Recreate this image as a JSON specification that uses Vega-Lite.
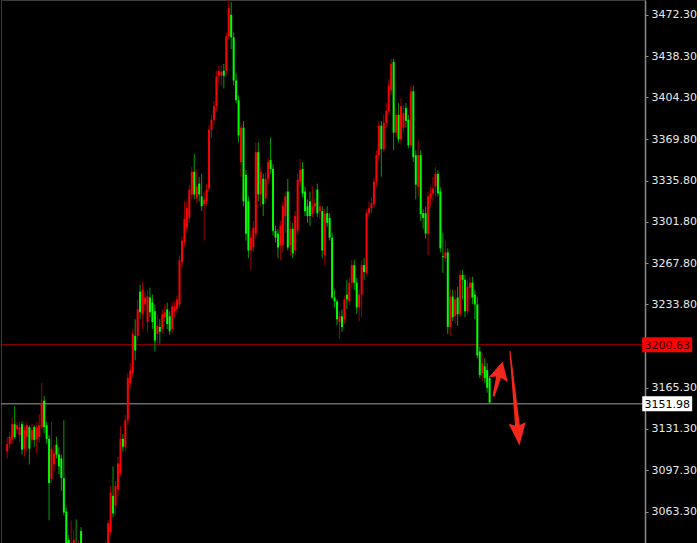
{
  "$schema": "https://vega.github.io/schema/vega-lite/v6.json",
  "width": 644,
  "height": 543,
  "padding": 0,
  "background": "#000000",
  "config": {
    "view": {"stroke": "#3c3c3c", "fill": "#000000"},
    "font": "DejaVu Sans"
  },
  "datasets": {
    "candles": [
      {"i":0,"o":3112.7,"h":3124.7,"l":3107.0,"c":3119.0},
      {"i":1,"o":3119.0,"h":3128.8,"l":3115.1,"c":3124.7},
      {"i":2,"o":3123.1,"h":3140.9,"l":3119.0,"c":3135.2},
      {"i":3,"o":3135.2,"h":3149.8,"l":3123.1,"c":3124.7},
      {"i":4,"o":3131.2,"h":3136.9,"l":3127.1,"c":3134.4},
      {"i":5,"o":3126.3,"h":3136.9,"l":3120.7,"c":3132.8},
      {"i":6,"o":3135.2,"h":3137.7,"l":3110.2,"c":3114.3},
      {"i":7,"o":3115.1,"h":3134.4,"l":3108.6,"c":3130.4},
      {"i":8,"o":3124.7,"h":3136.9,"l":3112.7,"c":3134.4},
      {"i":9,"o":3132.8,"h":3134.4,"l":3102.1,"c":3115.1},
      {"i":10,"o":3122.3,"h":3135.2,"l":3119.0,"c":3130.4},
      {"i":11,"o":3132.8,"h":3134.4,"l":3116.7,"c":3122.3},
      {"i":12,"o":3123.1,"h":3136.9,"l":3111.0,"c":3132.8},
      {"i":13,"o":3124.7,"h":3143.3,"l":3119.9,"c":3134.4},
      {"i":14,"o":3132.8,"h":3169.2,"l":3131.2,"c":3153.0},
      {"i":15,"o":3154.6,"h":3158.7,"l":3127.9,"c":3132.8},
      {"i":16,"o":3134.4,"h":3136.9,"l":3119.0,"c":3123.1},
      {"i":17,"o":3123.1,"h":3126.3,"l":3056.0,"c":3086.7},
      {"i":18,"o":3090.0,"h":3136.9,"l":3086.7,"c":3115.1},
      {"i":19,"o":3102.1,"h":3118.3,"l":3096.5,"c":3111.0},
      {"i":20,"o":3118.3,"h":3124.7,"l":3107.0,"c":3110.2},
      {"i":21,"o":3110.2,"h":3116.7,"l":3094.1,"c":3100.5},
      {"i":22,"o":3107.0,"h":3110.2,"l":3080.3,"c":3090.8},
      {"i":23,"o":3090.8,"h":3138.5,"l":3060.1,"c":3062.5},
      {"i":24,"o":3063.3,"h":3066.6,"l":3027.7,"c":3035.8},
      {"i":25,"o":3039.8,"h":3043.9,"l":3019.7,"c":3027.7},
      {"i":26,"o":3027.7,"h":3056.0,"l":3023.7,"c":3037.4},
      {"i":27,"o":3031.8,"h":3048.0,"l":3027.7,"c":3039.8},
      {"i":28,"o":3037.4,"h":3056.9,"l":3019.7,"c":3023.7},
      {"i":29,"o":3023.7,"h":3039.8,"l":3015.6,"c":3031.8},
      {"i":30,"o":3047.2,"h":3050.4,"l":3023.7,"c":3027.7},
      {"i":31,"o":3031.8,"h":3035.8,"l":3011.6,"c":3015.6},
      {"i":32,"o":3011.6,"h":3027.7,"l":3003.5,"c":3019.7},
      {"i":33,"o":3023.7,"h":3029.3,"l":3003.5,"c":3007.6},
      {"i":34,"o":3007.6,"h":3023.7,"l":2999.4,"c":3015.6},
      {"i":35,"o":3013.2,"h":3029.3,"l":3007.6,"c":3023.7},
      {"i":36,"o":3021.3,"h":3027.7,"l":3005.1,"c":3011.6},
      {"i":37,"o":3018.1,"h":3034.2,"l":3011.6,"c":3027.7},
      {"i":38,"o":3023.7,"h":3037.4,"l":3019.7,"c":3031.8},
      {"i":39,"o":3031.8,"h":3035.8,"l":3018.1,"c":3023.7},
      {"i":40,"o":3027.7,"h":3039.0,"l":3021.3,"c":3035.8},
      {"i":41,"o":3035.8,"h":3056.0,"l":3031.8,"c":3053.6},
      {"i":42,"o":3046.4,"h":3084.3,"l":3043.9,"c":3078.8},
      {"i":43,"o":3076.2,"h":3100.5,"l":3058.5,"c":3061.7},
      {"i":44,"o":3068.2,"h":3088.4,"l":3060.1,"c":3084.3},
      {"i":45,"o":3081.9,"h":3108.6,"l":3076.2,"c":3102.9},
      {"i":46,"o":3094.9,"h":3133.6,"l":3092.4,"c":3123.1},
      {"i":47,"o":3123.1,"h":3127.1,"l":3112.7,"c":3116.7},
      {"i":48,"o":3116.7,"h":3142.5,"l":3112.7,"c":3138.5},
      {"i":49,"o":3138.5,"h":3177.2,"l":3134.4,"c":3173.2},
      {"i":50,"o":3169.2,"h":3185.4,"l":3165.2,"c":3179.7},
      {"i":51,"o":3177.2,"h":3213.7,"l":3173.2,"c":3209.6},
      {"i":52,"o":3208.0,"h":3221.7,"l":3187.8,"c":3195.9},
      {"i":53,"o":3208.0,"h":3237.9,"l":3204.0,"c":3229.8},
      {"i":54,"o":3244.4,"h":3250.1,"l":3221.7,"c":3227.4},
      {"i":55,"o":3225.8,"h":3252.5,"l":3213.7,"c":3246.0},
      {"i":56,"o":3233.9,"h":3244.4,"l":3228.2,"c":3239.5},
      {"i":57,"o":3219.3,"h":3246.0,"l":3211.3,"c":3240.3},
      {"i":58,"o":3239.5,"h":3247.6,"l":3223.3,"c":3227.4},
      {"i":59,"o":3235.5,"h":3241.9,"l":3213.7,"c":3219.3},
      {"i":60,"o":3228.2,"h":3233.9,"l":3195.1,"c":3204.0},
      {"i":61,"o":3209.6,"h":3225.8,"l":3201.6,"c":3216.1},
      {"i":62,"o":3215.3,"h":3221.7,"l":3201.6,"c":3211.3},
      {"i":63,"o":3213.7,"h":3229.8,"l":3209.6,"c":3225.8},
      {"i":64,"o":3223.3,"h":3233.9,"l":3220.1,"c":3227.4},
      {"i":65,"o":3229.8,"h":3235.5,"l":3213.7,"c":3217.7},
      {"i":66,"o":3224.1,"h":3228.2,"l":3208.8,"c":3212.1},
      {"i":67,"o":3213.7,"h":3235.5,"l":3210.5,"c":3232.2},
      {"i":68,"o":3228.2,"h":3236.3,"l":3223.3,"c":3232.2},
      {"i":69,"o":3229.8,"h":3241.1,"l":3226.6,"c":3237.9},
      {"i":70,"o":3233.9,"h":3274.2,"l":3231.4,"c":3270.2},
      {"i":71,"o":3268.6,"h":3289.6,"l":3263.8,"c":3286.4},
      {"i":72,"o":3284.8,"h":3318.7,"l":3281.5,"c":3304.2},
      {"i":73,"o":3296.9,"h":3318.7,"l":3292.9,"c":3313.1},
      {"i":74,"o":3305.0,"h":3332.5,"l":3301.0,"c":3328.4},
      {"i":75,"o":3324.4,"h":3347.0,"l":3320.3,"c":3343.0},
      {"i":76,"o":3343.0,"h":3357.6,"l":3320.3,"c":3324.4},
      {"i":77,"o":3321.1,"h":3345.4,"l":3317.1,"c":3330.9},
      {"i":78,"o":3333.3,"h":3339.0,"l":3318.7,"c":3324.4},
      {"i":79,"o":3322.8,"h":3341.4,"l":3310.7,"c":3314.7},
      {"i":80,"o":3316.3,"h":3326.8,"l":3286.4,"c":3320.3},
      {"i":81,"o":3318.7,"h":3333.3,"l":3314.7,"c":3328.4},
      {"i":82,"o":3329.2,"h":3381.8,"l":3326.8,"c":3377.7},
      {"i":83,"o":3377.7,"h":3389.9,"l":3371.3,"c":3385.8},
      {"i":84,"o":3385.8,"h":3401.2,"l":3381.8,"c":3397.1},
      {"i":85,"o":3397.1,"h":3426.2,"l":3393.1,"c":3421.4},
      {"i":86,"o":3422.2,"h":3430.3,"l":3415.7,"c":3426.2},
      {"i":87,"o":3422.2,"h":3430.3,"l":3413.3,"c":3425.4},
      {"i":88,"o":3426.2,"h":3431.9,"l":3411.7,"c":3422.2},
      {"i":89,"o":3426.2,"h":3457.8,"l":3422.2,"c":3454.5},
      {"i":90,"o":3454.5,"h":3484.4,"l":3452.1,"c":3478.0},
      {"i":91,"o":3472.3,"h":3482.8,"l":3444.0,"c":3453.7},
      {"i":92,"o":3453.7,"h":3457.8,"l":3414.1,"c":3418.2},
      {"i":93,"o":3418.2,"h":3423.8,"l":3399.6,"c":3402.0},
      {"i":94,"o":3402.0,"h":3406.0,"l":3367.2,"c":3372.9},
      {"i":95,"o":3351.1,"h":3383.4,"l":3339.0,"c":3379.4},
      {"i":96,"o":3379.4,"h":3385.0,"l":3314.7,"c":3318.7},
      {"i":97,"o":3340.6,"h":3344.6,"l":3286.4,"c":3292.1},
      {"i":98,"o":3318.7,"h":3322.8,"l":3271.9,"c":3278.3},
      {"i":99,"o":3278.3,"h":3294.5,"l":3262.2,"c":3288.8},
      {"i":100,"o":3280.7,"h":3302.6,"l":3276.7,"c":3296.9},
      {"i":101,"o":3292.1,"h":3367.2,"l":3288.0,"c":3359.2},
      {"i":102,"o":3359.2,"h":3367.2,"l":3318.7,"c":3324.4},
      {"i":103,"o":3324.4,"h":3347.0,"l":3314.7,"c":3343.0},
      {"i":104,"o":3337.3,"h":3341.4,"l":3306.6,"c":3316.3},
      {"i":105,"o":3321.1,"h":3343.0,"l":3317.1,"c":3337.3},
      {"i":106,"o":3337.3,"h":3355.1,"l":3333.3,"c":3351.1},
      {"i":107,"o":3352.7,"h":3371.3,"l":3341.4,"c":3345.4},
      {"i":108,"o":3345.4,"h":3349.5,"l":3290.5,"c":3294.5},
      {"i":109,"o":3294.5,"h":3298.5,"l":3284.8,"c":3288.8},
      {"i":110,"o":3292.1,"h":3296.1,"l":3271.9,"c":3280.7},
      {"i":111,"o":3282.4,"h":3302.6,"l":3270.2,"c":3298.5},
      {"i":112,"o":3282.4,"h":3318.7,"l":3276.7,"c":3314.7},
      {"i":113,"o":3306.6,"h":3326.8,"l":3292.9,"c":3322.8},
      {"i":114,"o":3326.8,"h":3337.3,"l":3278.3,"c":3280.7},
      {"i":115,"o":3282.4,"h":3302.6,"l":3274.2,"c":3296.1},
      {"i":116,"o":3296.1,"h":3301.0,"l":3271.9,"c":3275.9},
      {"i":117,"o":3278.3,"h":3310.7,"l":3274.2,"c":3306.6},
      {"i":118,"o":3294.5,"h":3341.4,"l":3291.3,"c":3336.5},
      {"i":119,"o":3334.9,"h":3353.5,"l":3330.9,"c":3344.6},
      {"i":120,"o":3345.4,"h":3351.1,"l":3322.0,"c":3325.2},
      {"i":121,"o":3326.8,"h":3330.9,"l":3306.6,"c":3310.7},
      {"i":122,"o":3314.7,"h":3320.3,"l":3301.0,"c":3306.6},
      {"i":123,"o":3318.7,"h":3326.8,"l":3298.5,"c":3306.6},
      {"i":124,"o":3308.2,"h":3330.9,"l":3305.8,"c":3314.7},
      {"i":125,"o":3314.7,"h":3321.1,"l":3310.7,"c":3317.1},
      {"i":126,"o":3328.4,"h":3333.3,"l":3305.8,"c":3309.0},
      {"i":127,"o":3310.7,"h":3318.7,"l":3304.2,"c":3314.7},
      {"i":128,"o":3310.7,"h":3314.7,"l":3271.9,"c":3278.3},
      {"i":129,"o":3274.2,"h":3312.3,"l":3266.2,"c":3308.2},
      {"i":130,"o":3309.0,"h":3314.7,"l":3297.7,"c":3301.0},
      {"i":131,"o":3305.0,"h":3309.0,"l":3286.4,"c":3288.8},
      {"i":132,"o":3288.8,"h":3292.9,"l":3237.9,"c":3239.5},
      {"i":133,"o":3239.5,"h":3246.0,"l":3231.4,"c":3236.3},
      {"i":134,"o":3236.3,"h":3237.9,"l":3216.9,"c":3221.7},
      {"i":135,"o":3219.3,"h":3228.2,"l":3205.6,"c":3224.1},
      {"i":136,"o":3224.1,"h":3229.8,"l":3211.3,"c":3215.3},
      {"i":137,"o":3221.7,"h":3241.1,"l":3217.7,"c":3237.9},
      {"i":138,"o":3241.9,"h":3254.1,"l":3229.8,"c":3237.9},
      {"i":139,"o":3236.3,"h":3255.7,"l":3233.1,"c":3251.7},
      {"i":140,"o":3251.7,"h":3270.2,"l":3247.6,"c":3266.2},
      {"i":141,"o":3266.2,"h":3270.2,"l":3246.0,"c":3251.7},
      {"i":142,"o":3251.7,"h":3255.7,"l":3225.8,"c":3231.4},
      {"i":143,"o":3231.4,"h":3246.0,"l":3220.1,"c":3241.9},
      {"i":144,"o":3241.9,"h":3270.2,"l":3223.3,"c":3266.2},
      {"i":145,"o":3266.2,"h":3271.9,"l":3254.1,"c":3260.5},
      {"i":146,"o":3259.7,"h":3312.3,"l":3258.1,"c":3309.0},
      {"i":147,"o":3309.0,"h":3318.7,"l":3305.8,"c":3313.1},
      {"i":148,"o":3313.1,"h":3322.0,"l":3309.0,"c":3317.1},
      {"i":149,"o":3316.3,"h":3338.1,"l":3313.9,"c":3334.9},
      {"i":150,"o":3334.9,"h":3360.8,"l":3330.9,"c":3356.7},
      {"i":151,"o":3356.7,"h":3385.0,"l":3351.1,"c":3381.0},
      {"i":152,"o":3381.0,"h":3385.0,"l":3339.0,"c":3361.6},
      {"i":153,"o":3361.6,"h":3389.9,"l":3359.2,"c":3383.4},
      {"i":154,"o":3383.4,"h":3399.6,"l":3379.4,"c":3393.1},
      {"i":155,"o":3393.1,"h":3419.0,"l":3389.9,"c":3414.1},
      {"i":156,"o":3410.1,"h":3436.0,"l":3406.0,"c":3431.9},
      {"i":157,"o":3433.5,"h":3436.0,"l":3360.8,"c":3375.3},
      {"i":158,"o":3375.3,"h":3395.5,"l":3371.3,"c":3389.9},
      {"i":159,"o":3389.9,"h":3399.6,"l":3367.2,"c":3369.7},
      {"i":160,"o":3369.7,"h":3403.6,"l":3365.6,"c":3397.1},
      {"i":161,"o":3379.4,"h":3398.0,"l":3375.3,"c":3391.5},
      {"i":162,"o":3395.5,"h":3399.6,"l":3379.4,"c":3385.0},
      {"i":163,"o":3385.8,"h":3389.9,"l":3362.4,"c":3364.8},
      {"i":164,"o":3364.8,"h":3414.1,"l":3362.4,"c":3409.3},
      {"i":165,"o":3409.3,"h":3414.1,"l":3351.1,"c":3355.1},
      {"i":166,"o":3356.7,"h":3360.8,"l":3320.3,"c":3332.5},
      {"i":167,"o":3330.9,"h":3368.9,"l":3322.8,"c":3356.7},
      {"i":168,"o":3356.7,"h":3360.8,"l":3302.6,"c":3308.2},
      {"i":169,"o":3309.0,"h":3312.3,"l":3296.1,"c":3305.0},
      {"i":170,"o":3309.0,"h":3314.7,"l":3288.0,"c":3292.1},
      {"i":171,"o":3292.1,"h":3326.8,"l":3274.2,"c":3322.8},
      {"i":172,"o":3321.1,"h":3330.9,"l":3314.7,"c":3325.2},
      {"i":173,"o":3325.2,"h":3339.0,"l":3318.7,"c":3329.2},
      {"i":174,"o":3330.9,"h":3347.0,"l":3322.8,"c":3341.4},
      {"i":175,"o":3341.4,"h":3344.6,"l":3322.8,"c":3325.2},
      {"i":176,"o":3326.8,"h":3330.1,"l":3276.7,"c":3280.0},
      {"i":177,"o":3273.5,"h":3292.9,"l":3259.7,"c":3272.7},
      {"i":178,"o":3271.9,"h":3286.4,"l":3268.6,"c":3276.7},
      {"i":179,"o":3276.7,"h":3280.0,"l":3209.6,"c":3215.3},
      {"i":180,"o":3215.3,"h":3246.0,"l":3208.0,"c":3240.3},
      {"i":181,"o":3240.3,"h":3246.0,"l":3220.1,"c":3223.3},
      {"i":182,"o":3224.1,"h":3246.0,"l":3217.7,"c":3237.9},
      {"i":183,"o":3239.5,"h":3248.4,"l":3216.1,"c":3225.8},
      {"i":184,"o":3225.8,"h":3262.2,"l":3223.3,"c":3258.1},
      {"i":185,"o":3258.1,"h":3262.2,"l":3237.9,"c":3254.1},
      {"i":186,"o":3254.1,"h":3258.1,"l":3223.3,"c":3228.2},
      {"i":187,"o":3228.2,"h":3254.1,"l":3225.8,"c":3248.4},
      {"i":188,"o":3247.6,"h":3256.5,"l":3237.9,"c":3251.7},
      {"i":189,"o":3251.7,"h":3256.5,"l":3233.9,"c":3239.5},
      {"i":190,"o":3241.9,"h":3246.0,"l":3221.7,"c":3233.9},
      {"i":191,"o":3233.9,"h":3240.3,"l":3189.4,"c":3191.8},
      {"i":192,"o":3195.1,"h":3199.1,"l":3173.2,"c":3175.7},
      {"i":193,"o":3177.2,"h":3193.5,"l":3170.8,"c":3185.4},
      {"i":194,"o":3182.9,"h":3189.4,"l":3169.2,"c":3173.2},
      {"i":195,"o":3179.7,"h":3185.4,"l":3161.1,"c":3165.2},
      {"i":196,"o":3173.2,"h":3174.8,"l":3151.98,"c":3153.0}
    ],
    "levels": [
      {"kind": "resistance", "price": 3200.63},
      {"kind": "support", "price": 3151.98}
    ],
    "arrows": [
      {"arrow": "rebound", "x": 199.4, "price": 3172.5},
      {"arrow": "target", "x": 206.2, "price": 3156.5}
    ]
  },
  "layer": [
    {
      "data": {"name": "levels"},
      "mark": {"type": "rule", "strokeWidth": 1},
      "encoding": {
        "y": {"field": "price", "type": "quantitative", "scale": {"domain": [3041.5, 3480.4], "nice": false, "zero": false},
          "axis": {
            "orient": "right",
            "title": null,
            "values": [3472.3, 3438.3, 3404.3, 3369.8, 3335.8, 3301.8, 3267.8, 3233.8, 3165.3, 3131.3, 3097.3, 3063.3],
            "format": ".2f",
            "grid": false,
            "labelColor": "#e8e8e8",
            "labelFont": "DejaVu Sans",
            "labelFontSize": 11,
            "labelPadding": 3,
            "labelOverlap": false,
            "labelBound": false,
            "labelFlush": false,
            "tickColor": "#8a8a8a",
            "tickSize": 3,
            "domainColor": "#8a8a8a",
            "domainWidth": 1.5
          }
        },
        "color": {"condition": {"test": "datum.kind === 'resistance'", "value": "#b00000"}, "value": "#a0a0a0"}
      }
    },
    {
      "data": {"name": "candles"},
      "mark": {"type": "rule", "strokeWidth": 1, "clip": true},
      "encoding": {
        "x": {"field": "i", "type": "quantitative", "scale": {"domain": [-0.5, 257.1], "nice": false, "zero": false}, "axis": null},
        "y": {"field": "l", "type": "quantitative", "scale": {"domain": [3041.5, 3480.4], "nice": false, "zero": false}},
        "y2": {"field": "h"},
        "color": {"condition": {"test": "datum.c >= datum.o", "value": "#a00000"}, "value": "#00a000"}
      }
    },
    {
      "data": {"name": "candles"},
      "mark": {"type": "bar", "size": 2, "clip": true},
      "encoding": {
        "x": {"field": "i", "type": "quantitative", "scale": {"domain": [-0.5, 257.1], "nice": false, "zero": false}, "axis": null},
        "y": {"field": "o", "type": "quantitative", "scale": {"domain": [3041.5, 3480.4], "nice": false, "zero": false}},
        "y2": {"field": "c"},
        "color": {"condition": {"test": "datum.c >= datum.o", "value": "#ff0000"}, "value": "#00ff00"}
      }
    },
    {
      "data": {"name": "levels"},
      "mark": {"type": "bar", "size": 15, "orient": "horizontal"},
      "encoding": {
        "x": {"datum": 258.0, "type": "quantitative", "scale": {"domain": [-0.5, 257.1], "nice": false, "zero": false}, "axis": null},
        "x2": {"datum": 278.3},
        "y": {"field": "price", "type": "quantitative", "scale": {"domain": [3041.5, 3480.4], "nice": false, "zero": false}},
        "color": {"condition": {"test": "datum.kind === 'resistance'", "value": "#ff0000"}, "value": "#ffffff"}
      }
    },
    {
      "data": {"name": "levels"},
      "mark": {"type": "text", "align": "center", "baseline": "middle", "fontSize": 11, "font": "DejaVu Sans", "dy": 1},
      "encoding": {
        "x": {"datum": 268.2, "type": "quantitative", "scale": {"domain": [-0.5, 257.1], "nice": false, "zero": false}, "axis": null},
        "y": {"field": "price", "type": "quantitative", "scale": {"domain": [3041.5, 3480.4], "nice": false, "zero": false}},
        "text": {"field": "price", "type": "quantitative", "format": ".2f"},
        "color": {"condition": {"test": "datum.kind === 'resistance'", "value": "#2a0000"}, "value": "#000000"}
      }
    },
    {
      "data": {"name": "arrows"},
      "transform": [{"filter": "datum.arrow === 'rebound'"}],
      "mark": {"type": "point", "filled": true, "opacity": 1, "strokeWidth": 0, "color": "#f3281c", "size": 1296, "angle": 15,
        "shape": "M0,-1L0.58,0.04L0.15,-0.1L0.07,1L-0.05,1L-0.13,-0.1L-0.52,0.04Z"},
      "encoding": {
        "x": {"field": "x", "type": "quantitative", "scale": {"domain": [-0.5, 257.1], "nice": false, "zero": false}, "axis": null},
        "y": {"field": "price", "type": "quantitative", "scale": {"domain": [3041.5, 3480.4], "nice": false, "zero": false}}
      }
    },
    {
      "data": {"name": "arrows"},
      "transform": [{"filter": "datum.arrow === 'target'"}],
      "mark": {"type": "point", "filled": true, "opacity": 1, "strokeWidth": 0, "color": "#f3281c", "size": 9025, "angle": 174.3,
        "shape": "M0,-1L0.18,-0.52L0.05,-0.57L0.012,1L-0.012,1L-0.05,-0.57L-0.18,-0.52Z"},
      "encoding": {
        "x": {"field": "x", "type": "quantitative", "scale": {"domain": [-0.5, 257.1], "nice": false, "zero": false}, "axis": null},
        "y": {"field": "price", "type": "quantitative", "scale": {"domain": [3041.5, 3480.4], "nice": false, "zero": false}}
      }
    }
  ]
}
